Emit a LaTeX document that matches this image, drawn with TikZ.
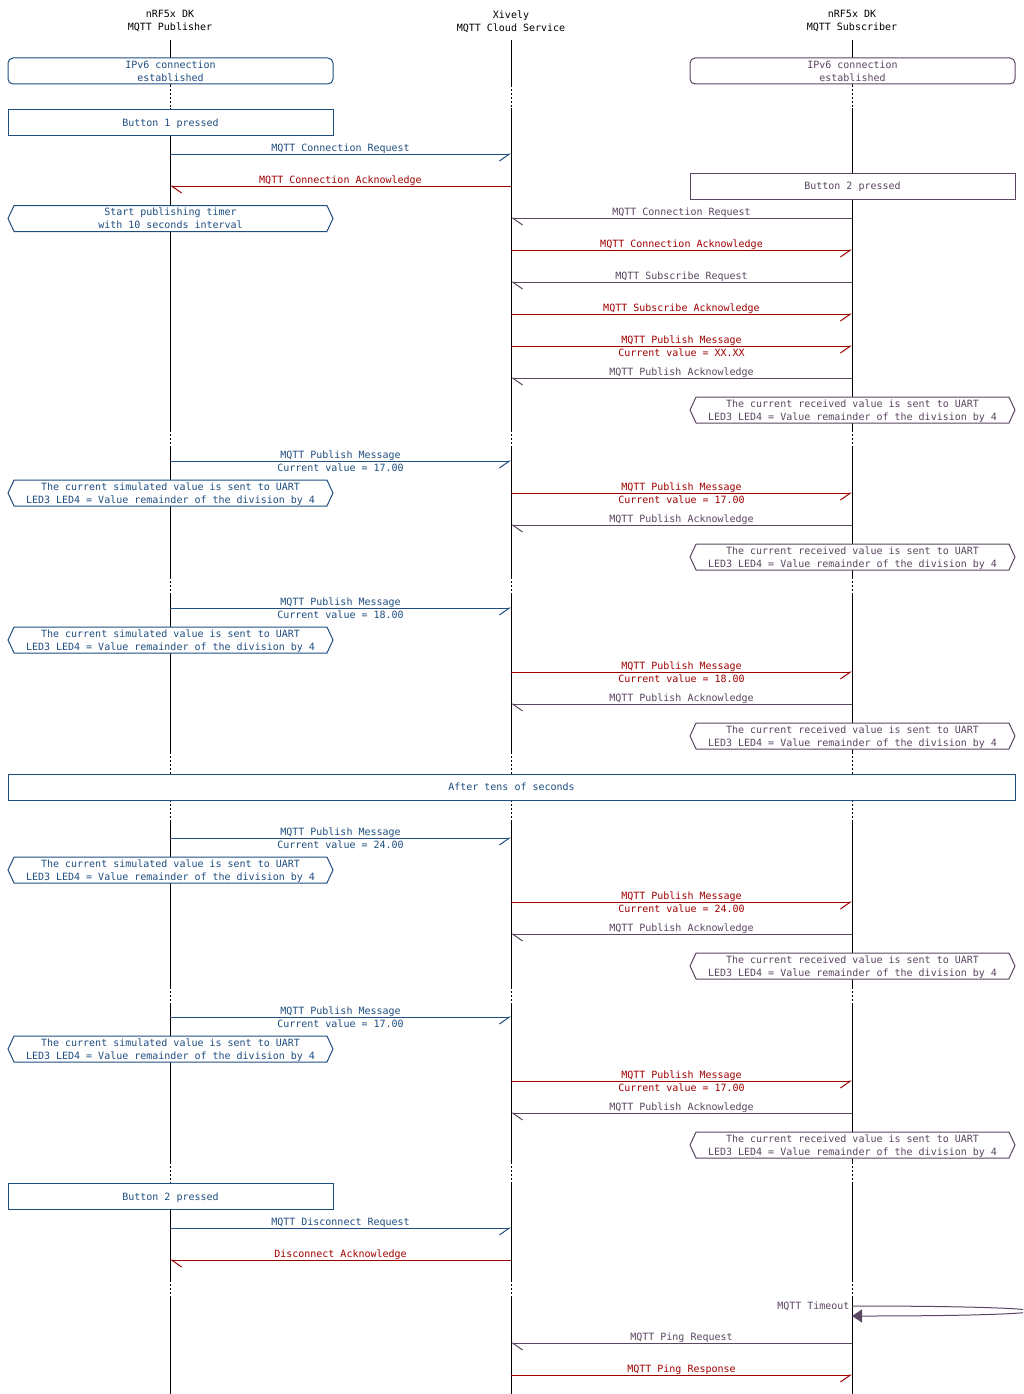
\documentclass[tikz,border=0pt]{standalone}
\usepackage{fontspec}
\newfontfamily\mscfont{DejaVu Sans Mono}
\usepackage{tikz}
\usetikzlibrary{arrows.meta}
\usetikzlibrary{shapes.symbols}
\definecolor{pubcol}{RGB}{31,78,128}
\definecolor{ackcol}{RGB}{160,0,0}
\definecolor{subcol}{RGB}{90,70,96}

\begin{document}
\begin{tikzpicture}[x=1pt,y=-1pt,line width=1pt,
  every node/.style={font=\mscfont\fontsize{10}{13}\selectfont,align=center,inner sep=1pt},
  life/.style={draw=black},
  gap/.style={draw=black,dash pattern=on 2pt off 2pt},
  box/.style={draw,fill=white,minimum width=325pt,minimum height=26pt,inner sep=0pt,text depth=-0.6pt},
  state/.style={box,rounded corners=5pt},
  evt/.style={box,shape=signal,signal to=west and east,signal pointer angle=130},
  toR/.style={-{Straight Barb[harpoon,swap,length=10pt,width=14pt]}},
  toL/.style={-{Straight Barb[harpoon,length=10pt,width=14pt]}},
  lbl/.style={midway,above,yshift=-1.5pt},
  lbltwo/.style={midway,below,yshift=-1.5pt}]
  \useasboundingbox (0,0) rectangle (1023,1394);

  %heads
  \node (pub) at (170,21.5) {nRF5x DK\\MQTT Publisher};
  \node (xiv) at (511,21.5) {Xively\\MQTT Cloud Service};
  \node (sub) at (852,21.5) {nRF5x DK\\MQTT Subscriber};

  %lifelines
  \foreach \l in {pub,xiv,sub}{
    \foreach \a/\b in {40/85,108/430,447/577,595/752,773/800,822/987,1005/1162,1182/1280,1298/1394}
      \draw[life] (\l |- 0,\a) -- (\l |- 0,\b);
    \foreach \a/\b in {85/108,430/447,577/595,752/773,800/822,987/1005,1162/1182,1280/1298}
      \draw[gap] (\l |- 0,\a) -- (\l |- 0,\b);
  }

  %connection
  \node[state,draw=pubcol,text=pubcol] (ipp) at (170.5,71) {IPv6 connection\\established};
  \node[state,draw=subcol,text=subcol] (ips) at (852.5,71) {IPv6 connection\\established};
  \node[box,draw=pubcol,text=pubcol] (bpa) at (170.5,122.5) {Button 1 pressed};
  \draw[pubcol,toR] (pub |- 0,154) -- node[lbl] (ma) {MQTT Connection Request} (xiv |- 0,154);
  \draw[ackcol,toL] (xiv |- 0,186) -- node[lbl] (mb) {MQTT Connection Acknowledge} (pub |- 0,186);
  \node[box,draw=subcol,text=subcol] (bsa) at (852.5,186) {Button 2 pressed};
  \node[evt,draw=pubcol,text=pubcol] (tmr) at (170.5,218.5) {Start publishing timer\\with 10 seconds interval};

  %subscriber connects
  \draw[subcol,toL] (sub |- 0,218) -- node[lbl] (mc) {MQTT Connection Request} (xiv |- 0,218);
  \draw[ackcol,toR] (xiv |- 0,250) -- node[lbl] (md) {MQTT Connection Acknowledge} (sub |- 0,250);
  \draw[subcol,toL] (sub |- 0,282) -- node[lbl] (me) {MQTT Subscribe Request} (xiv |- 0,282);
  \draw[ackcol,toR] (xiv |- 0,314) -- node[lbl] (mf) {MQTT Subscribe Acknowledge} (sub |- 0,314);
  \draw[ackcol,toR] (xiv |- 0,346) -- node[lbl] (mg) {MQTT Publish Message} node[lbltwo] (mgv) {Current value = XX.XX} (sub |- 0,346);
  \draw[subcol,toL] (sub |- 0,378) -- node[lbl] (mh) {MQTT Publish Acknowledge} (xiv |- 0,378);
  \node[evt,draw=subcol,text=subcol] (rxa) at (852.5,410) {The current received value is sent to UART\\LED3 LED4 = Value remainder of the division by 4};

  %publish 17.00
  \draw[pubcol,toR] (pub |- 0,461) -- node[lbl] (pa) {MQTT Publish Message} node[lbltwo] (pav) {Current value = 17.00} (xiv |- 0,461);
  \node[evt,draw=pubcol,text=pubcol] (txa) at (170.5,493) {The current simulated value is sent to UART\\LED3 LED4 = Value remainder of the division by 4};
  \draw[ackcol,toR] (xiv |- 0,493) -- node[lbl] (fa) {MQTT Publish Message} node[lbltwo] (fav) {Current value = 17.00} (sub |- 0,493);
  \draw[subcol,toL] (sub |- 0,525) -- node[lbl] (ka) {MQTT Publish Acknowledge} (xiv |- 0,525);
  \node[evt,draw=subcol,text=subcol] (rxb) at (852.5,557) {The current received value is sent to UART\\LED3 LED4 = Value remainder of the division by 4};

  %publish 18.00
  \draw[pubcol,toR] (pub |- 0,608) -- node[lbl] (pb) {MQTT Publish Message} node[lbltwo] (pbv) {Current value = 18.00} (xiv |- 0,608);
  \node[evt,draw=pubcol,text=pubcol] (txb) at (170.5,640) {The current simulated value is sent to UART\\LED3 LED4 = Value remainder of the division by 4};
  \draw[ackcol,toR] (xiv |- 0,672) -- node[lbl] (fb) {MQTT Publish Message} node[lbltwo] (fbv) {Current value = 18.00} (sub |- 0,672);
  \draw[subcol,toL] (sub |- 0,704) -- node[lbl] (kb) {MQTT Publish Acknowledge} (xiv |- 0,704);
  \node[evt,draw=subcol,text=subcol] (rxc) at (852.5,736) {The current received value is sent to UART\\LED3 LED4 = Value remainder of the division by 4};

  %pause
  \node[box,draw=pubcol,text=pubcol,minimum width=1007pt] (wait) at (511.5,787) {After tens of seconds};

  %publish 24.00
  \draw[pubcol,toR] (pub |- 0,838) -- node[lbl] (pc) {MQTT Publish Message} node[lbltwo] (pcv) {Current value = 24.00} (xiv |- 0,838);
  \node[evt,draw=pubcol,text=pubcol] (txc) at (170.5,870) {The current simulated value is sent to UART\\LED3 LED4 = Value remainder of the division by 4};
  \draw[ackcol,toR] (xiv |- 0,902) -- node[lbl] (fc) {MQTT Publish Message} node[lbltwo] (fcv) {Current value = 24.00} (sub |- 0,902);
  \draw[subcol,toL] (sub |- 0,934) -- node[lbl] (kc) {MQTT Publish Acknowledge} (xiv |- 0,934);
  \node[evt,draw=subcol,text=subcol] (rxd) at (852.5,966) {The current received value is sent to UART\\LED3 LED4 = Value remainder of the division by 4};

  %publish 17.00 again
  \draw[pubcol,toR] (pub |- 0,1017) -- node[lbl] (pd) {MQTT Publish Message} node[lbltwo] (pdv) {Current value = 17.00} (xiv |- 0,1017);
  \node[evt,draw=pubcol,text=pubcol] (txd) at (170.5,1049) {The current simulated value is sent to UART\\LED3 LED4 = Value remainder of the division by 4};
  \draw[ackcol,toR] (xiv |- 0,1081) -- node[lbl] (fd) {MQTT Publish Message} node[lbltwo] (fdv) {Current value = 17.00} (sub |- 0,1081);
  \draw[subcol,toL] (sub |- 0,1113) -- node[lbl] (kd) {MQTT Publish Acknowledge} (xiv |- 0,1113);
  \node[evt,draw=subcol,text=subcol] (rxe) at (852.5,1145) {The current received value is sent to UART\\LED3 LED4 = Value remainder of the division by 4};

  %disconnect
  \node[box,draw=pubcol,text=pubcol] (bpb) at (170.5,1196.5) {Button 2 pressed};
  \draw[pubcol,toR] (pub |- 0,1228) -- node[lbl] (da) {MQTT Disconnect Request} (xiv |- 0,1228);
  \draw[ackcol,toL] (xiv |- 0,1260) -- node[lbl] (db) {Disconnect Acknowledge} (pub |- 0,1260);

  %timeout and ping
  \begin{scope}
    \clip (0,0) rectangle (1023,1394);
    \draw[subcol,-{Triangle[length=10pt,width=13pt]}] (sub |- 0,1306) node[anchor=east,xshift=-1pt] (tmo) {MQTT Timeout} .. controls (1090,1306) and (1090,1316) .. (sub |- 0,1316);
  \end{scope}
  \draw[subcol,toL] (sub |- 0,1343) -- node[lbl] (pga) {MQTT Ping Request} (xiv |- 0,1343);
  \draw[ackcol,toR] (xiv |- 0,1375) -- node[lbl] (pgb) {MQTT Ping Response} (sub |- 0,1375);
\end{tikzpicture}
\end{document}
